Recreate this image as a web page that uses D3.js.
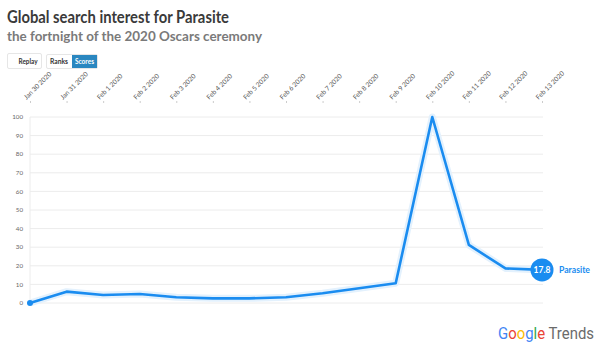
<!DOCTYPE html>
<html><head><meta charset="utf-8">
<script src="https://cdn.jsdelivr.net/npm/d3@7"></script>
<style>
html,body{margin:0;padding:0;background:#fff;}
svg{display:block;font-family:"Lato","Open Sans",sans-serif;}
</style></head>
<body>
<svg id="c" width="601" height="352"></svg>
<script>
const dates = ["Jan 30 2020","Jan 31 2020","Feb 1 2020","Feb 2 2020","Feb 3 2020","Feb 4 2020","Feb 5 2020","Feb 6 2020","Feb 7 2020","Feb 8 2020","Feb 9 2020","Feb 10 2020","Feb 11 2020","Feb 12 2020","Feb 13 2020"];
const values = [0, 6.1, 4.3, 4.8, 3.1, 2.5, 2.5, 3.1, 5.2, 7.9, 10.6, 100, 31.2, 18.6, 17.8];
const yTicks = [0,10,20,30,40,50,60,70,80,90,100];
const seriesName = "Parasite";

const svg = d3.select("#c");
const x = d3.scalePoint().domain(dates).range([30, 542]);
const y = d3.scaleLinear().domain([0,100]).range([303, 117]);

// title
svg.append("text").attr("x",7).attr("y",22.5).attr("font-size",16.5).attr("font-weight","bold")
  .attr("fill","#3a3a3a").attr("textLength",222).attr("lengthAdjust","spacingAndGlyphs")
  .text("Global search interest for Parasite");
svg.append("text").attr("x",7).attr("y",40.5).attr("font-size",13.5).attr("font-weight","bold")
  .attr("fill","#7a7a7a").attr("textLength",255).attr("lengthAdjust","spacingAndGlyphs")
  .text("the fortnight of the 2020 Oscars ceremony");

// buttons
const btn = svg.append("g").attr("font-size",6.8).attr("font-weight","bold");
btn.append("rect").attr("x",7.5).attr("y",53.5).attr("width",34).attr("height",15).attr("rx",1.5)
  .attr("fill","#fff").attr("stroke","#e6e6e6");
btn.append("text").attr("x",18.5).attr("y",64).attr("fill","#333").attr("textLength",19).attr("lengthAdjust","spacingAndGlyphs").text("Replay");
btn.append("rect").attr("x",46.5).attr("y",54.5).attr("width",51).attr("height",14).attr("rx",1.5)
  .attr("fill","#fff").attr("stroke","#e6e6e6");
btn.append("text").attr("x",50).attr("y",64).attr("fill","#333").attr("textLength",18).attr("lengthAdjust","spacingAndGlyphs").text("Ranks");
btn.append("rect").attr("x",72).attr("y",55).attr("width",25).attr("height",13).attr("fill","#2a87c0");
btn.append("text").attr("x",75).attr("y",64).attr("fill","#fff").attr("textLength",19).attr("lengthAdjust","spacingAndGlyphs").text("Scores");

// gridlines
svg.append("g").selectAll("line").data(yTicks).join("line")
  .attr("x1",30).attr("x2",543).attr("y1",d=>y(d)).attr("y2",d=>y(d))
  .attr("stroke","#ececec").attr("stroke-width",1);
svg.append("line").attr("x1",30).attr("x2",30).attr("y1",y(100)).attr("y2",y(0))
  .attr("stroke","#ececec");

// y axis labels
svg.append("g").selectAll("text").data(yTicks).join("text")
  .attr("x",23).attr("y",d=>y(d)+2.2).attr("text-anchor","end")
  .attr("font-size",6.2).attr("fill","#666").text(d=>d);

// x axis (top) via d3 axis
const xAxis = svg.append("g").attr("transform","translate(0,103)")
  .call(d3.axisTop(x).tickSize(2).tickSizeOuter(0));
xAxis.select(".domain").remove();
xAxis.selectAll(".tick line").attr("stroke","#ccc");
xAxis.selectAll(".tick text")
  .attr("font-family","Lato").attr("font-size",6.6).attr("fill","#555")
  .attr("text-anchor","start").attr("transform","translate(-4,-3) rotate(-45)")
  .attr("x",0).attr("y",0).attr("dy",0);

// line
const line = d3.line().x((d,i)=>x(dates[i])).y(d=>y(d));
svg.append("path").datum(values).attr("d",line).attr("fill","none")
  .attr("stroke","#e3f1fd").attr("stroke-width",7).attr("stroke-linejoin","round");
svg.append("path").datum(values).attr("d",line).attr("fill","none")
  .attr("stroke","#1a8cf0").attr("stroke-width",2.6).attr("stroke-linejoin","round");

// start dot
svg.append("circle").attr("cx",x(dates[0])).attr("cy",y(values[0])).attr("r",3).attr("fill","#1a8cf0");

// end label
const lastI = values.length-1;
svg.append("circle").attr("cx",x(dates[lastI])).attr("cy",y(values[lastI])).attr("r",11.5).attr("fill","#1a8cf0");
svg.append("text").attr("x",x(dates[lastI])).attr("y",y(values[lastI])+3).attr("text-anchor","middle")
  .attr("font-weight","bold").attr("font-size",8.5).attr("fill","#fff")
  .text(values[lastI].toFixed(1));
svg.append("text").attr("x",x(dates[lastI])+17).attr("y",y(values[lastI])+3)
  .attr("font-weight","bold").attr("font-size",8.5).attr("fill","#1a8cf0")
  .attr("textLength",31).attr("lengthAdjust","spacingAndGlyphs")
  .text(seriesName);

// Google Trends logo
const logo = svg.append("text").attr("x",498).attr("y",339).attr("font-family","Roboto, 'Open Sans', sans-serif").attr("font-size",17)
  .attr("textLength",96).attr("lengthAdjust","spacingAndGlyphs");
const gcols = ["#4285F4","#EA4335","#FBBC05","#4285F4","#34A853","#EA4335"];
"Google".split("").forEach((ch,i)=>logo.append("tspan").attr("fill",gcols[i]).text(ch));
logo.append("tspan").attr("fill","#6b6b6b").text(" Trends");
</script>
</body></html>
